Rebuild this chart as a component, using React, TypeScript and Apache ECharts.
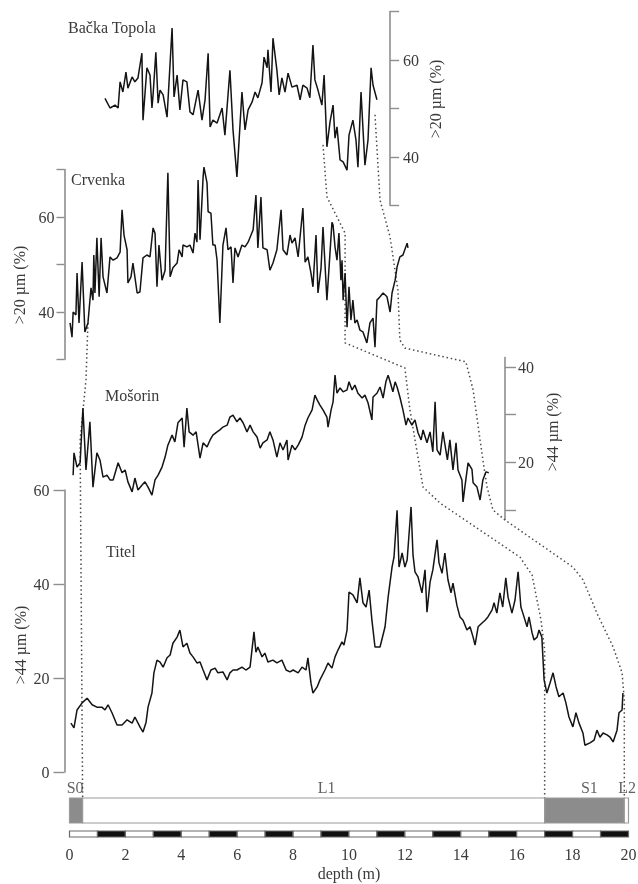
import React, { useEffect, useRef } from 'react';
import * as echarts from 'echarts';

const FONT = '"Liberation Serif", "DejaVu Serif", serif';
const X0 = 69.5;
const PX_PER_M = 27.95;

// ---- Bačka Topola (>20 µm %) ----
const backaDepth = [1.27,1.45,1.63,1.74,1.81,1.91,2.02,2.09,2.24,2.34,2.45,2.59,2.63,2.77,2.88,2.95,2.99,3.09,3.17,3.24,3.35,3.49,3.67,3.74,3.85,3.95,4.06,4.20,4.31,4.42,4.60,4.74,4.85,4.96,5.03,5.13,5.28,5.46,5.56,5.74,5.85,5.99,6.17,6.28,6.39,6.53,6.64,6.74,6.89,6.96,7.07,7.10,7.21,7.28,7.42,7.50,7.60,7.71,7.82,7.96,8.14,8.25,8.35,8.50,8.60,8.71,8.78,8.89,9.03,9.11,9.21,9.32,9.43,9.50,9.57,9.68,9.79,9.93,10.00,10.14,10.25,10.32,10.43,10.57,10.68,10.79,10.86,11.00];
const backaValue = [52.1,50.1,50.7,50.1,55.5,53.4,57.5,54.2,56.5,55.5,56.3,61.4,47.6,58.4,56.9,50.1,52.8,61.6,51.1,53.8,52.8,48.2,66.6,52.4,56.9,49.7,55.9,55.5,49.3,48.7,53.8,47.6,51.8,61.4,46.2,47.6,47.0,50.1,44.5,57.9,45.6,35.9,53.4,45.6,49.7,51.3,53.4,52.2,55.3,60.6,58.4,62.1,53.4,64.5,57.9,52.8,56.3,53.4,57.3,54.4,54.8,51.8,54.8,54.2,52.2,63.1,55.9,53.8,50.7,56.9,42.1,47.2,50.7,43.9,46.2,39.4,39.0,37.3,44.5,47.6,43.5,37.9,53.4,38.3,43.5,58.4,54.8,51.8];

// ---- Crvenka (>20 µm %) ----
const crvenkaDepth = [0.02,0.09,0.13,0.23,0.27,0.34,0.45,0.55,0.66,0.77,0.84,0.87,0.91,0.98,1.06,1.13,1.20,1.34,1.45,1.56,1.70,1.81,1.88,1.95,2.06,2.09,2.20,2.27,2.42,2.52,2.63,2.77,2.88,2.99,3.06,3.13,3.20,3.31,3.42,3.52,3.60,3.70,3.85,3.92,4.03,4.06,4.20,4.31,4.42,4.49,4.56,4.60,4.67,4.78,4.81,4.92,4.96,5.06,5.13,5.21,5.28,5.38,5.49,5.60,5.67,5.78,5.85,5.92,6.03,6.17,6.28,6.39,6.57,6.67,6.74,6.85,6.92,7.07,7.17,7.28,7.42,7.57,7.64,7.78,7.89,7.96,8.07,8.18,8.35,8.43,8.53,8.64,8.71,8.82,8.89,9.00,9.07,9.21,9.28,9.39,9.43,9.50,9.57,9.64,9.71,9.75,9.79,9.86,9.93,10.00,10.07,10.14,10.21,10.29,10.39,10.50,10.64,10.75,10.86,10.93,11.00,11.11,11.22,11.36,11.47,11.54,11.65,11.72,11.82,11.93,12.08,12.11];
const crvenkaValue = [37.7,34.7,40.0,39.4,48.2,37.7,50.5,35.8,37.7,45.1,42.5,52.0,44.0,55.6,43.2,55.6,47.4,44.0,51.6,50.9,51.4,52.6,61.5,56.2,53.1,46.1,47.4,50.3,44.0,44.2,51.4,52.0,51.6,57.7,56.6,45.3,54.1,46.7,48.8,69.3,47.4,49.3,50.3,53.1,51.6,54.1,53.7,54.1,52.4,56.6,54.7,67.8,55.2,68.4,70.5,67.2,61.1,60.8,54.1,54.1,50.9,37.7,54.1,57.7,53.1,53.7,46.1,53.5,51.6,54.1,53.7,54.7,57.3,64.6,53.5,64.2,53.5,53.1,48.8,50.3,53.1,61.5,53.1,52.0,56.2,54.5,55.6,51.6,61.9,50.5,51.6,48.2,45.3,56.2,44.0,49.3,57.9,42.5,48.8,58.9,58.3,53.7,50.9,56.6,46.7,50.9,42.5,48.2,36.8,45.3,38.3,42.5,37.7,38.3,36.2,35.8,33.5,37.7,38.7,32.6,42.5,43.2,44.0,43.2,40.0,44.0,46.7,49.5,51.6,52.0,54.5,53.5];

// ---- Mošorin (>44 µm %) ----
const mosorinDepth = [0.13,0.16,0.27,0.38,0.48,0.59,0.73,0.84,0.98,1.09,1.20,1.34,1.45,1.56,1.74,1.88,1.99,2.09,2.24,2.34,2.45,2.59,2.70,2.81,2.95,3.06,3.17,3.31,3.42,3.52,3.67,3.77,3.88,4.03,4.10,4.20,4.28,4.42,4.53,4.67,4.78,4.92,5.03,5.13,5.28,5.38,5.49,5.64,5.74,5.85,5.99,6.10,6.21,6.35,6.46,6.57,6.71,6.82,6.92,7.07,7.17,7.28,7.42,7.53,7.64,7.78,7.82,7.96,8.07,8.18,8.32,8.43,8.53,8.68,8.78,8.86,8.96,9.07,9.21,9.25,9.36,9.43,9.50,9.57,9.68,9.79,9.93,10.00,10.11,10.21,10.32,10.47,10.57,10.68,10.82,10.86,11.00,11.11,11.22,11.32,11.40,11.47,11.57,11.65,11.72,11.82,11.93,12.04,12.11,12.25,12.36,12.47,12.58,12.65,12.79,12.90,13.00,13.08,13.15,13.26,13.36,13.52,13.61,13.72,13.83,13.90,14.04,14.08,14.15,14.26,14.40,14.44,14.58,14.69,14.79,14.90,15.00];
const mosorinValue = [17.3,22.0,19.0,19.9,31.4,18.4,28.5,14.8,22.0,20.5,16.9,17.3,16.3,16.3,19.9,17.8,18.4,15.9,13.8,16.7,14.2,15.2,15.9,14.8,13.1,16.3,17.3,19.0,21.1,23.6,25.7,24.3,28.3,29.3,23.2,31.4,26.4,25.7,26.4,20.9,24.1,23.2,24.7,25.7,26.4,26.8,27.4,27.8,29.5,29.9,28.5,29.3,28.3,26.4,27.8,26.4,25.3,23.0,24.1,24.7,26.4,24.7,21.1,24.1,22.6,24.7,20.5,23.6,22.6,23.6,25.3,27.8,29.3,31.0,34.1,33.1,32.0,31.0,29.5,27.4,31.0,32.7,38.3,34.5,35.6,34.8,35.2,36.9,35.2,36.2,34.5,33.5,34.1,32.5,28.9,33.7,34.5,35.8,33.5,36.9,38.3,36.9,34.8,36.9,35.8,33.7,31.0,27.8,29.3,27.8,28.9,26.2,24.7,26.8,24.1,26.4,22.2,32.7,22.6,21.5,26.4,20.5,24.7,18.4,24.1,18.4,16.3,11.7,15.0,19.9,18.5,15.7,14.8,12.1,16.3,18.0,17.8];

// ---- Titel (>44 µm %) ----
const titelDepth = [0.05,0.16,0.27,0.45,0.63,0.81,0.98,1.16,1.27,1.38,1.52,1.70,1.88,2.06,2.24,2.34,2.52,2.63,2.74,2.81,2.95,3.02,3.13,3.24,3.35,3.49,3.60,3.70,3.85,3.95,4.06,4.20,4.31,4.42,4.56,4.67,4.78,4.92,5.06,5.21,5.31,5.49,5.64,5.74,5.85,5.99,6.17,6.31,6.46,6.60,6.67,6.74,6.89,6.99,7.10,7.28,7.42,7.60,7.75,7.89,8.00,8.18,8.32,8.46,8.53,8.64,8.71,8.86,8.96,9.14,9.25,9.39,9.50,9.61,9.75,9.82,9.93,10.00,10.14,10.29,10.39,10.50,10.61,10.72,10.82,10.93,11.11,11.29,11.40,11.54,11.61,11.72,11.79,11.90,12.00,12.08,12.22,12.29,12.36,12.47,12.61,12.72,12.79,12.90,13.00,13.15,13.22,13.33,13.43,13.54,13.65,13.72,13.86,13.97,14.08,14.22,14.33,14.44,14.51,14.62,14.76,14.87,14.97,15.12,15.19,15.29,15.40,15.50,15.61,15.69,15.83,15.94,16.05,16.15,16.22,16.37,16.44,16.55,16.62,16.73,16.80,16.90,16.98,17.08,17.19,17.30,17.41,17.51,17.66,17.76,17.87,18.01,18.12,18.23,18.37,18.44,18.62,18.77,18.87,18.98,19.09,19.23,19.34,19.45,19.59,19.66,19.77,19.80];
const titelValue = [10.4,9.4,13.2,14.7,15.7,14.3,13.8,13.8,13.2,14.3,12.6,10.0,10.0,11.1,10.4,11.7,9.6,8.5,10.6,13.8,16.8,21.1,23.8,23.4,22.3,24.3,24.9,27.4,28.7,30.2,26.6,27.4,25.3,24.5,23.2,23.4,21.7,19.6,21.7,22.1,21.1,21.3,19.6,21.1,21.7,21.7,22.3,21.7,22.3,29.8,25.5,26.6,24.5,25.3,23.4,23.8,23.2,23.8,21.7,21.3,21.7,21.1,22.3,21.7,24.3,18.9,16.8,18.1,19.6,21.7,23.2,22.1,24.5,26.0,27.7,27.0,30.2,38.3,37.7,36.0,41.3,36.0,35.1,38.7,32.3,26.6,26.6,30.9,37.2,43.6,45.7,55.7,43.6,46.6,43.6,45.1,56.4,46.2,42.6,41.5,38.1,43.0,34.0,40.4,43.0,49.4,44.5,42.3,46.6,40.9,38.1,40.2,35.5,33.0,32.3,30.2,30.9,28.7,27.0,30.9,31.7,32.3,33.0,34.5,36.0,33.8,38.1,35.1,41.3,37.2,33.8,36.6,42.6,35.1,33.8,30.9,33.0,29.6,28.1,28.7,30.2,28.7,19.6,16.8,18.9,21.1,18.1,16.0,16.8,14.7,11.7,9.6,12.6,10.4,8.3,5.7,6.2,6.8,8.9,7.4,8.3,7.9,7.4,6.4,8.9,12.6,13.2,16.8];

// ---- Stratigraphy ----
const stratUnits = ['S0', 'L1', 'S1', 'L2'];
const stratFrom = [0, 0.47, 17.0, 19.85];
const stratTo = [0.47, 17.0, 19.85, 20];
const stratIsSoil = [1, 0, 1, 0];
const stratLabelDepth = [0.2, 9.2, 18.6, 19.95];

// ---- Scale bar (1 m segments) ----
const scaleFrom = [0,1,2,3,4,5,6,7,8,9,10,11,12,13,14,15,16,17,18,19];
const scaleTo = [1,2,3,4,5,6,7,8,9,10,11,12,13,14,15,16,17,18,19,20];
const scaleBlack = [0,1,0,1,0,1,0,1,0,1,0,1,0,1,0,1,0,1,0,1];

// ---- Correlation lines: [depth, panel, value in that panel's units] ----
// panel 0 Bačka, 1 Crvenka, 2 Mošorin, 3 Titel, 4 strat bar (0..1)
const corrS0 = [[0.66,1,37.7],[0.59,2,37.3],[0.38,3,70.6],[0.47,4,1]];
const corrA = [[9.07,0,42.5],[9.21,0,31.8],[9.86,1,56.6],[9.86,1,33.5],[12.0,2,39.8],[12.18,2,31],[12.65,2,14.8],[13.26,3,57.2],[16.12,3,45.7],[16.55,3,41.9],[16.87,3,32.3],[17.0,3,26],[17.0,4,1]];
const corrB = [[10.93,0,48.7],[11.11,0,31.1],[11.47,1,55.8],[11.75,1,44.6],[11.82,1,34.1],[12.0,1,32.4],[14.18,2,41.1],[14.44,2,35.2],[14.79,2,20.5],[14.94,2,14.8],[15.15,2,10],[15.58,2,7.9],[18.01,3,43.6],[18.37,3,40.9],[18.87,3,33.8],[19.45,3,26.6],[19.77,3,21.1],[19.85,3,15.3],[19.85,4,1]];

const depthTicks = [0, 2, 4, 6, 8, 10, 12, 14, 16, 18, 20];

const AXIS_COLOR = '#8e8e8e';
const TEXT_COLOR = '#3a3a3a';

function zip(a: number[], b: number[]) {
  return a.map((d, i) => [d, b[i]]);
}

export default function App() {
  const ref = useRef<HTMLDivElement>(null);
  useEffect(() => {
    if (!ref.current) return;
    const chart = echarts.init(ref.current, undefined, { renderer: 'svg' });

    const panelMax = [11.47, 20, 15.58, 20, 20, 20];
    const panelTop = [11.5, 169.5, 357.5, 490, 798, 831];
    const panelHeight = [194, 190, 162, 282, 25, 6];

    const grids = panelMax.map((m, i) => ({
      left: X0,
      top: panelTop[i],
      width: m * PX_PER_M,
      height: panelHeight[i],
      outerBoundsMode: 'none',
      containLabel: false,
    }));

    const xAxes = panelMax.map((m, i) => {
      if (i < 5) return { gridIndex: i, type: 'value', min: 0, max: m, show: false };
      return {
        gridIndex: i, type: 'value', min: 0, max: 20, interval: 2,
        axisLine: { show: false }, axisTick: { show: false }, splitLine: { show: false },
        axisLabel: { show: true, margin: 9, color: TEXT_COLOR, fontFamily: FONT, fontSize: 16,
          customValues: depthTicks },
        name: 'depth (m)', nameLocation: 'middle', nameGap: 28,
        nameTextStyle: { color: TEXT_COLOR, fontFamily: FONT, fontSize: 16 },
      };
    });

    const axisCommon = (length: number) => ({
      axisLine: { show: true, onZero: false, lineStyle: { color: AXIS_COLOR, width: 1.6 } },
      axisTick: { show: true, length, lineStyle: { color: AXIS_COLOR, width: 1.4 } },
      splitLine: { show: false },
    });
    const labelStyle = { color: TEXT_COLOR, fontFamily: FONT, fontSize: 16 };

    const yAxes: any[] = [
      { gridIndex: 0, type: 'value', position: 'right', min: 30, max: 70, interval: 10, ...axisCommon(9),
        axisLabel: { ...labelStyle, margin: 13, formatter: (v: number) => (v === 40 || v === 60 ? String(v) : '') } },
      { gridIndex: 1, type: 'value', position: 'left', offset: 5, min: 30, max: 70, interval: 10, ...axisCommon(8),
        axisLabel: { ...labelStyle, margin: 10, formatter: (v: number) => (v === 40 || v === 60 ? String(v) : '') } },
      { gridIndex: 2, type: 'value', position: 'right', min: 8, max: 42, ...axisCommon(11),
        axisTick: { show: true, length: 11, customValues: [10, 20, 30, 40], lineStyle: { color: AXIS_COLOR, width: 1.4 } },
        axisLabel: { ...labelStyle, margin: 13, customValues: [20, 40] } },
      { gridIndex: 3, type: 'value', position: 'left', offset: 5, min: 0, max: 60, interval: 20, ...axisCommon(11),
        axisLabel: { ...labelStyle, margin: 15 } },
      { gridIndex: 4, type: 'value', min: 0, max: 1, show: false },
      { gridIndex: 5, type: 'value', min: 0, max: 1, show: false },
    ];

    const lineSeries = (i: number, d: number[], v: number[], name: string) => ({
      name, type: 'line', xAxisIndex: i, yAxisIndex: i, data: zip(d, v),
      showSymbol: false, symbol: 'none', clip: false,
      lineStyle: { color: '#141414', width: 1.5 },
    });

    const rectItem = (fillFn: (k: number) => string, stroke: string) => (params: any, api: any) => {
      const a = api.coord([api.value(0), 1]);
      const b = api.coord([api.value(1), 0]);
      return {
        type: 'rect',
        shape: { x: a[0], y: a[1], width: b[0] - a[0], height: b[1] - a[1] },
        style: { fill: fillFn(api.value(2)), stroke, lineWidth: 1.2 },
      };
    };

    chart.setOption({
      animation: false,
      grid: grids,
      xAxis: xAxes,
      yAxis: yAxes,
      series: [
        lineSeries(0, backaDepth, backaValue, 'Bačka Topola'),
        lineSeries(1, crvenkaDepth, crvenkaValue, 'Crvenka'),
        lineSeries(2, mosorinDepth, mosorinValue, 'Mošorin'),
        lineSeries(3, titelDepth, titelValue, 'Titel'),
        {
          type: 'custom', xAxisIndex: 4, yAxisIndex: 4,
          data: stratFrom.map((f, i) => [f, stratTo[i], stratIsSoil[i]]),
          renderItem: rectItem((k) => (k ? '#8c8c8c' : '#ffffff'), '#9a9a9a'),
        },
        {
          type: 'scatter', xAxisIndex: 4, yAxisIndex: 4, symbolSize: 0.01, clip: false,
          data: stratLabelDepth.map((d, i) => ({ name: stratUnits[i], value: [d, 1] })),
          label: { show: true, position: 'top', distance: 2, formatter: '{b}', color: TEXT_COLOR, fontFamily: FONT, fontSize: 16 },
        },
        {
          type: 'custom', xAxisIndex: 5, yAxisIndex: 5,
          data: scaleFrom.map((f, i) => [f, scaleTo[i], scaleBlack[i]]),
          renderItem: rectItem((k) => (k ? '#111111' : '#ffffff'), '#6a6a6a'),
        },
      ],
    });

    const toPx = (p: number[]) => chart.convertToPixel({ gridIndex: p[1] } as any, [p[0], p[2]]) as number[];
    const dotted = (pts: number[][]) => ({
      type: 'polyline', silent: true, z: 1,
      shape: { points: pts.map(toPx) },
      style: { stroke: '#4a4a4a', lineWidth: 1.5, lineDash: [1.5, 2.8], fill: null },
    });
    const txt = (text: string, x: number, y: number, rotate = false) => ({
      type: 'text', x, y, rotation: rotate ? Math.PI / 2 : 0, silent: true,
      style: { text, fill: TEXT_COLOR, font: `16px ${FONT}`, textAlign: rotate ? 'center' : 'left',
        textVerticalAlign: 'middle', verticalAlign: 'middle' },
    });

    chart.setOption({
      graphic: [
        dotted(corrS0), dotted(corrA), dotted(corrB),
        txt('Bačka Topola', 68, 27),
        txt('Crvenka', 71, 179),
        txt('Mošorin', 105, 395),
        txt('Titel', 106, 551),
        txt('>20 µm (%)', 435, 99, true),
        txt('>20 µm (%)', 19, 285, true),
        txt('>44 µm (%)', 552, 432, true),
        txt('>44 µm (%)', 20, 645, true),
      ],
    });

    return () => chart.dispose();
  }, []);
  return <div ref={ref} style={{ position: 'fixed', left: 0, top: 0, width: 638, height: 884 }} />;
}
